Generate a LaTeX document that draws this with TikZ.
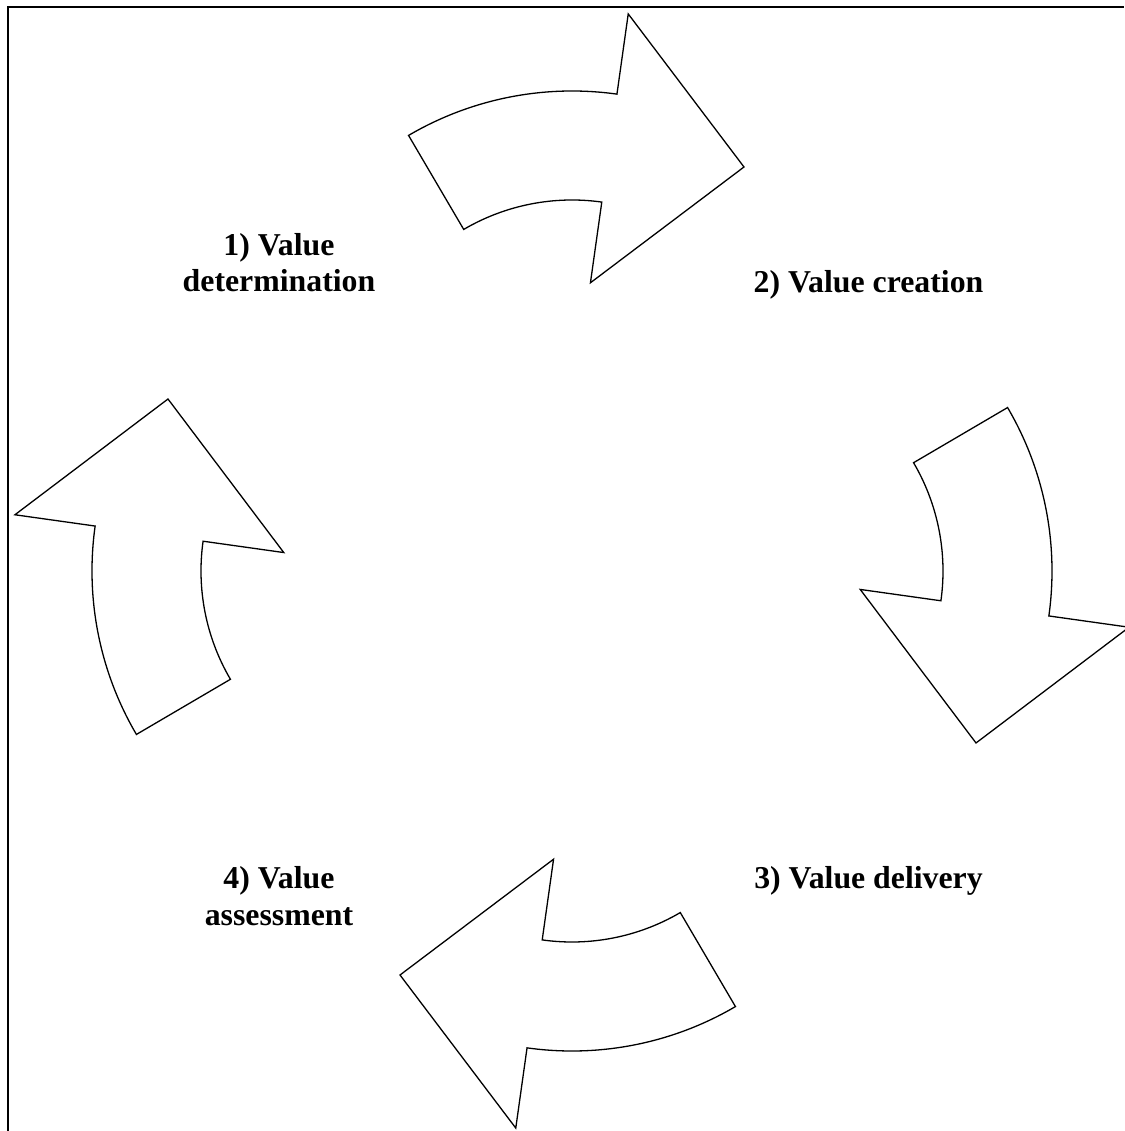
\documentclass[tikz,border=0pt]{standalone}
\usepackage{fontspec}
\setmainfont{Liberation Serif}
\begin{document}
\begin{tikzpicture}[
  x=1pt, y=1pt,
  cyclearrow/.style={draw=black, line width=1.3pt, fill=white, line join=miter},
  stagelabel/.style={font=\fontsize{31.8}{36.6}\selectfont\bfseries, align=center, anchor=base, inner sep=0pt},
  frameline/.style={line width=2pt}
]
\useasboundingbox (-572,571) rectangle (552,-560);
% frame: top and left rules only
\draw[frameline] (-564,-560) -- (-564,564) -- (552,564);
% four curved arrows, each a quarter turn of the first
\foreach \r in {0,-90,-180,-270}{
  \draw[cyclearrow, rotate=\r, shift={(0pt,157pt)}]
    (120.4:323pt) arc[start angle=120.4, end angle=82, radius=323pt]
    -- (82:404pt) -- (55.15:301pt) -- (82:132.5pt) -- (82:214pt)
    arc[start angle=82, end angle=120.4, radius=214pt] -- cycle;
}
% stage labels (base anchor sits on the last line)
\node[stagelabel] (s1) at (-293,279) {1) Value\\determination};
\node[stagelabel] (s2) at (296.5,278) {2) Value creation};
\node[stagelabel] (s3) at (296.5,-317) {3) Value delivery};
\node[stagelabel] (s4) at (-293,-354) {4) Value\\assessment};
\end{tikzpicture}
\end{document}
